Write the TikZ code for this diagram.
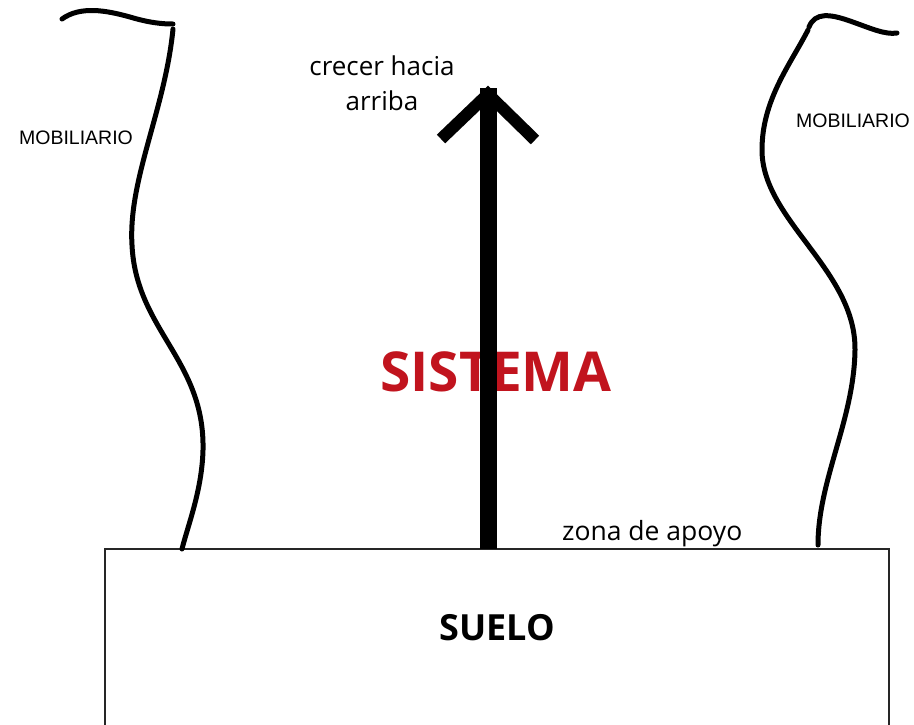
\documentclass[tikz,border=0pt]{standalone}
\usepackage{fontspec}
\setmainfont{Open Sans}
\newfontfamily\mobfont{Liberation Sans}
\definecolor{sistemared}{RGB}{193,20,30}
\def\curveWidth{5pt}

\begin{document}
\begin{tikzpicture}[x=1pt, y=-1pt,
    mueble/.style = {line width = \curveWidth, line cap = round},
    rotulo/.style = {inner sep = 0pt, font = \mobfont\fontsize{19.5}{22}\selectfont},
    nota/.style = {inner sep = 0pt, align = center, font = \fontsize{26}{35}\selectfont}
    ]
            \useasboundingbox (0,0) rectangle (914,724);
            \draw [line width = 1.5pt, black!85]
            (105,730) -- (105,549) -- (889,549) -- (889,730)
            ;
            \node (suelo) [inner sep = 0pt, font = \bfseries\fontsize{36}{40}\selectfont] at (497,628) {SUELO};
            \node (sistema) [inner sep = 0pt, text = sistemared, font = \bfseries\fontsize{55}{60}\selectfont] at (496,372) {SISTEMA};
            \node (crecer) [nota] at (382,83) {crecer hacia\\arriba};
            \node (apoyo) [nota, font = \fontsize{26.5}{30}\selectfont, anchor = south west] at (562,547) {zona de apoyo};
            \node (mobIzq) [rotulo] at (76,138) {MOBILIARIO};
            \node (mobDer) [rotulo] at (853,121) {MOBILIARIO};
            \draw [mueble]
            (62,19) .. controls (80,6) and (105,10) .. (130,17)
            .. controls (150,23) and (163,24) .. (173,24);
            \draw [mueble]
            (173,29) .. controls (165,110) and (128,180) .. (132,245)
            .. controls (136,330) and (205,360) .. (203,450)
            .. controls (202,490) and (188,525) .. (182,549);
            \draw [mueble]
            (809,27) .. controls (815,12) and (830,14) .. (850,21)
            .. controls (870,28) and (885,35) .. (897,33);
            \draw [mueble]
            (808,30) .. controls (790,65) and (762,100) .. (762,150)
            .. controls (762,220) and (856,270) .. (855,350)
            .. controls (854,420) and (818,480) .. (818,545);
            \coordinate (base) at (488,549);
            \coordinate (punta) at (488,94);
            \draw [line width = 17pt] (base) -- ([yshift = 6pt] punta);
            \draw [line width = 12pt, miter limit = 4]
            (punta) ++(-47,45) -- (punta) -- ++(47,46)
            ;
        \end{tikzpicture}
\end{document}
